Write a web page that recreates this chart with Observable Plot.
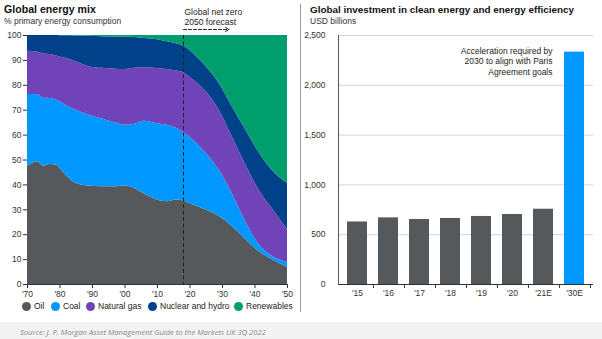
<!DOCTYPE html>
<html>
<head>
<meta charset="utf-8">
<script src="https://cdn.jsdelivr.net/npm/d3@7"></script>
<script src="https://cdn.jsdelivr.net/npm/@observablehq/plot@0.6"></script>
<style>
  html, body { margin: 0; padding: 0; background: #fff; }
  #root { position: relative; width: 602px; height: 339px; overflow: hidden; font-family: "Liberation Sans", Arial, sans-serif; color: #222; }
  .abs { position: absolute; white-space: nowrap; }
  .title { font-weight: bold; font-size: 10.6px; color: #111; }
  .sub { font-size: 8.5px; color: #333; }
  .leg { font-size: 8.5px; color: #222; display: flex; align-items: center; }
  .dot { width: 9px; height: 9px; border-radius: 50%; display: inline-block; margin-right: 3px; }
</style>
</head>
<body>
<div id="root"></div>
<script>
// ---------- Data: Global energy mix (% primary energy consumption) ----------
const years      = [1970,1973,1975,1977,1979,1980,1982,1985,1989,1993,1997,2000,2003,2006,2010,2013,2016,2018,2021,2025,2029,2033,2037,2041,2045,2050];
const oil        = [47.3,49.3,47.5,48.2,47.9,46.6,43.6,40.6,39.6,39.3,39.3,39.6,38.6,36.3,33.9,33.2,33.9,33.5,31.9,29.9,27.3,23.3,18.3,13.5,10.2,6.8];
const coal       = [29.0,27.0,27.3,26.5,26.1,26.8,28.2,29.4,28.4,27.2,25.7,24.4,25.8,29.3,30.7,30.8,28.8,27.5,26.1,22.7,18.6,13.2,7.2,3.0,1.4,2.0];
const gas        = [17.4,17.1,17.8,17.7,17.8,18.0,19.0,19.5,19.5,20.3,21.4,22.3,22.4,21.4,22.1,22.3,23.0,24.0,24.1,24.8,24.1,22.8,23.0,22.0,19.4,13.3];
const nuclear    = [6.3,6.6,7.4,7.6,8.2,8.5,9.1,10.3,12.2,12.7,13.0,13.0,12.4,11.8,11.6,11.2,10.9,10.8,10.7,10.0,10.7,12.1,14.0,15.0,15.3,18.5];
const renewables = [0,0,0,0,0,0.1,0.1,0.2,0.3,0.5,0.6,0.7,0.8,1.2,1.7,2.5,3.4,4.2,7.2,12.6,19.3,28.6,37.5,46.5,53.7,59.4];
const sources    = ["Oil","Coal","Natural gas","Nuclear and hydro","Renewables"];
const sourceColors = ["#56595b","#0098ff","#7143b9","#00418a","#009e6d"];
const decadeTicks = [1970,1980,1990,2000,2010,2020,2030,2040,2050];
const forecastYear = 2018;

// ---------- Data: Global investment in clean energy (USD billions) ----------
const invCategories = ["'15","'16","'17","'18","'19","'20","'21E","'30E"];
const invValues     = [628,669,653,663,683,703,756,2333];
const invTicks      = [0,500,1000,1500,2000,2500];

const seriesVals = [oil, coal, gas, nuclear, renewables];
const mix = [];
sources.forEach((s, i) => years.forEach((y, j) => mix.push({year: y, source: s, value: seriesVals[i][j]})));
const inv = invCategories.map((c, i) => ({cat: c, value: invValues[i]}));

const root = document.getElementById("root");
function addDiv(cls, text, left, top, extra) {
  const d = document.createElement("div");
  d.className = "abs " + cls;
  d.textContent = text;
  d.style.left = left + "px"; d.style.top = top + "px";
  if (extra) Object.assign(d.style, extra);
  root.appendChild(d);
  return d;
}

// bottom decorative band
const band = document.createElement("div");
band.className = "abs";
Object.assign(band.style, {left: "0px", top: "322px", width: "602px", height: "17px", background: "#f3f3f3"});
root.appendChild(band);

// divider
const div = document.createElement("div");
div.className = "abs";
Object.assign(div.style, {left: "300px", top: "4px", width: "1px", height: "308px", background: "#9a9a9a"});
root.appendChild(div);

const axisFont = "Liberation Sans, Arial, sans-serif";

// ---------- Left chart ----------
const left = Plot.plot({
  width: 300, height: 300,
  marginLeft: 27, marginRight: 13, marginTop: 35, marginBottom: 16,
  style: {fontFamily: axisFont, fontSize: "8.5px", color: "#333", background: "transparent"},
  x: {domain: [1970, 2050]},
  y: {domain: [0, 100]},
  color: {domain: sources, range: sourceColors},
  marks: [
    Plot.areaY(mix, {x: "year", y: "value", fill: "source", curve: "monotone-x"}),
    Plot.ruleX([forecastYear], {stroke: "#222", strokeWidth: 1, strokeDasharray: "4,2.5"}),
    Plot.ruleY([0], {stroke: "#333"}),
    Plot.axisX({ticks: decadeTicks, tickSize: 4, tickPadding: 2, tickFormat: d => "'" + String(d % 100).padStart(2, "0"), label: null, stroke: "#333"}),
    Plot.axisY({ticks: d3.range(0, 101, 10), tickSize: 4, tickPadding: 2, label: null, stroke: "#333"}),
    Plot.text(["Global net zero\n2050 forecast"], {x: () => forecastYear, y: () => 100, dx: 1, dy: -11, textAnchor: "start", lineAnchor: "bottom", lineHeight: 1.15, fontSize: 8.5, fill: "#222"}),
    Plot.arrow([0], {x1: () => forecastYear, x2: () => 2032, y1: () => 100, y2: () => 100, dy: -6, stroke: "#222", strokeWidth: 1, strokeDasharray: "3,2", headLength: 6})
  ]
});
left.style.position = "absolute"; left.style.left = "0px"; left.style.top = "0px";
root.appendChild(left);

addDiv("title", "Global energy mix", 4, 3);
addDiv("sub", "% primary energy consumption", 4, 16);

// legend
const legendX = [22, 51, 86, 148, 234];
sources.forEach((s, i) => {
  const d = addDiv("leg", "", legendX[i], 301);
  const dot = document.createElement("span");
  dot.className = "dot"; dot.style.background = sourceColors[i];
  d.appendChild(dot);
  d.appendChild(document.createTextNode(s));
});

// ---------- Right chart ----------
const step = 255 / 8;
const right = Plot.plot({
  width: 302, height: 300,
  marginLeft: 38, marginRight: 9, marginTop: 35, marginBottom: 16,
  style: {fontFamily: axisFont, fontSize: "8.5px", color: "#333", background: "transparent"},
  x: {domain: invCategories, paddingInner: 0.34, paddingOuter: 0.17},
  y: {domain: [0, 2500]},
  marks: [
    Plot.gridY(invTicks.slice(1), {stroke: "#d4d4d4", strokeOpacity: 1}),
    Plot.barY(inv, {x: "cat", y: "value", fill: d => d.cat === "'30E" ? "#0098ff" : "#56595b"}),
    Plot.ruleY([0], {stroke: "#333"}),
    Plot.frame({anchor: "left", stroke: "#555"}),
    Plot.axisY({ticks: invTicks, tickSize: 0, tickPadding: 13, tickFormat: d3.format(","), label: null}),
    Plot.axisX({tickSize: 0, tickPadding: 5, label: null}),
    Plot.axisX({tickSize: 4, dx: step / 2, tickFormat: () => "", label: null, stroke: "#333"}),
    Plot.text(["Acceleration required by\n2030 to align with Paris\nAgreement goals"], {x: () => "'30E", y: () => 2500, dx: -22, dy: 11, textAnchor: "end", lineAnchor: "top", lineHeight: 1.22, fontSize: 8.5, fill: "#222"})
  ]
});
right.style.position = "absolute"; right.style.left = "300px"; right.style.top = "0px";
root.appendChild(right);

addDiv("title", "Global investment in clean energy and energy efficiency", 310, 4, {fontSize: "9.9px"});
addDiv("sub", "USD billions", 310, 16);

addDiv("", "Source: J. P. Morgan Asset Management Guide to the Markets UK 3Q 2022", 20, 327, {fontStyle: "italic", fontSize: "7.6px", color: "#8a8a8a", fontFamily: "'Open Sans', 'Liberation Sans', sans-serif"});
</script>
</body>
</html>
